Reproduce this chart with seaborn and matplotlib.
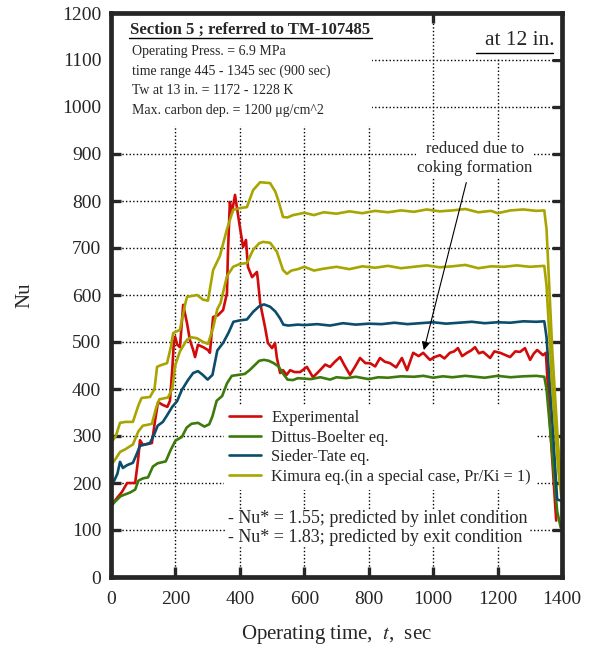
import pandas as pd
import matplotlib.pyplot as plt
import seaborn as sns

sns.set_theme(style="ticks")
plt.rcParams['font.family'] = ['Liberation Serif', 'DejaVu Serif']
plt.rcParams['mathtext.fontset'] = 'stix'
plt.rcParams['xtick.direction'] = 'in'
plt.rcParams['ytick.direction'] = 'in'

# Experimental
t_exp = [0, 15, 34, 50, 75, 84, 90, 99, 115, 127, 137, 146, 161, 175, 183, 190, 195, 199, 205, 214,
         224, 236, 245, 255, 261, 270, 286, 301, 307, 317, 332, 348, 360, 363, 369, 375, 385, 392, 400,
         410, 419, 425, 438, 453, 456, 463, 478, 487, 500, 509, 515, 525, 534, 545, 556, 570, 587, 608,
         627, 649, 665, 680, 695, 711, 725, 742, 758, 773, 790, 804, 820, 835, 850, 866, 885, 903, 919,
         938, 955, 969, 990, 1005, 1021, 1035, 1052, 1065, 1077, 1090, 1105, 1118, 1130, 1142, 1155,
         1177, 1190, 1208, 1225, 1239, 1255, 1270, 1285, 1301, 1312, 1323, 1341, 1350, 1365, 1382]
nu_exp = [150, 165, 181, 200, 200, 249, 291, 281, 283, 285, 334, 372, 366, 362, 375, 440, 498, 511, 495, 489,
          579, 540, 504, 483, 468, 494, 489, 483, 477, 553, 557, 568, 604, 689, 798, 774, 813, 781, 745,
          702, 717, 660, 638, 649, 632, 583, 532, 498, 487, 498, 466, 434, 440, 430, 440, 436, 436, 447,
          425, 440, 452, 447, 458, 468, 450, 430, 448, 466, 455, 455, 448, 466, 458, 455, 446, 466, 440,
          477, 470, 477, 462, 468, 472, 465, 477, 480, 487, 470, 477, 482, 489, 476, 479,
          466, 480, 477, 472, 468, 480, 479, 487, 462, 475, 483, 472, 477, 300, 120]

# Dittus-Boelter
t_db = [0, 15, 30, 45, 60, 75, 85, 100, 115, 130, 145, 170, 185, 200, 220, 235, 250, 270, 290, 305,
        315, 328, 345, 360, 375, 395, 415, 430, 445, 460, 475, 490, 505, 520, 535, 548, 565, 580, 600,
        620, 650, 680, 700, 730, 760, 800, 830, 860, 900, 940, 970, 1000, 1030, 1060, 1100, 1130, 1160,
        1200, 1240, 1280, 1320, 1345, 1352, 1370, 1385, 1396]
nu_db = [151, 162, 172, 176, 180, 186, 205, 210, 212, 235, 242, 246, 270, 290, 298, 318, 326, 328, 320, 325,
         342, 375, 385, 412, 428, 430, 432, 440, 450, 460, 462, 460, 455, 448, 432, 420, 419, 423, 422,
         421, 425, 420, 425, 423, 426, 421, 425, 424, 427, 426, 428, 424, 427, 425, 428, 426, 424,
         428, 425, 427, 428, 426, 400, 260, 140, 105]

# Sieder-Tate
t_st = [0, 10, 20, 28, 37, 50, 68, 80, 90, 105, 121, 135, 145, 161, 175, 190, 205, 220, 239, 255,
        270, 285, 300, 315, 330, 348, 365, 380, 400, 422, 441, 460, 475, 494, 510, 525, 535, 550, 580,
        600, 640, 680, 720, 760, 800, 840, 880, 920, 960, 1000, 1040, 1080, 1120, 1160, 1200, 1240,
        1280, 1320, 1345, 1352, 1370, 1385, 1398]
nu_st = [198, 205, 220, 245, 232, 238, 243, 262, 279, 282, 285, 305, 322, 330, 345, 362, 374, 398, 419, 434,
         438, 430, 420, 430, 482, 498, 520, 543, 546, 548, 564, 576, 580, 575, 565, 550, 537, 535, 537,
         536, 538, 535, 540, 537, 539, 538, 541, 538, 540, 542, 539, 541, 543, 540, 542, 541,
         544, 543, 544, 510, 330, 165, 162]

# Kimura (Nu* = 1.55)
t_k1 = [0, 15, 28, 45, 68, 85, 99, 115, 127, 140, 150, 177, 190, 200, 214, 236, 250, 267, 286, 301,
        317, 330, 340, 360, 379, 400, 422, 441, 460, 472, 494, 515, 534, 546, 560, 580, 600, 630, 660,
        700, 740, 780, 820, 860, 900, 940, 980, 1020, 1060, 1100, 1140, 1180, 1220, 1260, 1300, 1345,
        1352, 1370, 1388, 1398]
nu_k1 = [238, 252, 266, 272, 282, 310, 322, 324, 326, 360, 378, 382, 400, 452, 480, 505, 510, 508, 500, 496,
         530, 570, 583, 640, 660, 666, 668, 696, 710, 713, 711, 692, 653, 645, 652, 655, 660, 652, 656,
         660, 655, 661, 658, 662, 657, 660, 663, 659, 661, 664, 657, 661, 660, 663, 660, 662,
         620, 400, 230, 170]

# Kimura (Nu* = 1.83)
t_k2 = [0, 15, 28, 45, 68, 85, 95, 121, 135, 143, 152, 174, 186, 193, 214, 230, 236, 267, 286, 301,
        317, 338, 360, 379, 400, 422, 441, 463, 494, 510, 519, 534, 548, 565, 580, 600, 630, 660, 700,
        740, 780, 820, 860, 900, 940, 980, 1020, 1060, 1100, 1140, 1180, 1200, 1240, 1280, 1320, 1345,
        1352, 1370, 1388, 1398]
nu_k2 = [285, 300, 328, 330, 330, 365, 381, 383, 400, 447, 450, 455, 490, 519, 526, 580, 596, 600, 590, 588,
         653, 683, 740, 781, 785, 787, 823, 840, 838, 820, 802, 766, 765, 770, 772, 775, 770, 776, 773,
         778, 774, 779, 776, 780, 777, 782, 778, 780, 783, 776, 779, 774, 780, 782, 779, 780,
         740, 480, 280, 205]

x_ticks = list(range(0, 1401, 200))
y_ticks = list(range(0, 1201, 100))

series = [
    (t_exp, nu_exp, "Experimental", "#d10a0a"),
    (t_db, nu_db, "Dittus-Boelter eq.", "#3d7a0c"),
    (t_st, nu_st, "Sieder-Tate eq.", "#0b4d6b"),
    (t_k1, nu_k1, "Kimura eq.(in a special case, Pr/Ki = 1)", "#a8a400"),
    (t_k2, nu_k2, "_kimura2", "#a8a400"),
]

fig = plt.figure(figsize=(5.91, 6.46), dpi=100)
ax = fig.add_axes([111 / 591, 1 - 577 / 646, 451 / 591, 564 / 646])

# dotted grid drawn as plain lines so the white text boxes can sit above it
grid_kw = dict(color='black', linestyle=(0, (1, 1.6)), linewidth=1.0, zorder=0.5)
for xv in x_ticks[1:-1]:
    ax.axvline(xv, **grid_kw)
for yv in y_ticks[1:-1]:
    ax.axhline(yv, **grid_kw)

for t, nu, lab, col in series:
    df = pd.DataFrame({'t': t, 'Nu': nu})
    sns.lineplot(data=df, x='t', y='Nu', color=col, linewidth=1.9, label=lab, ax=ax, zorder=3)

ax.set_xlim(0, 1400)
ax.set_ylim(0, 1200)
ax.set_xticks(x_ticks)
ax.set_yticks(y_ticks)
ax.tick_params(direction='in', length=7, width=2.4, top=True, right=True, labelsize=14)
ax.tick_params(axis='x', pad=10)
ax.tick_params(axis='y', pad=7)
for s in ax.spines.values():
    s.set_linewidth(3.4)
    s.set_zorder(6)
ax.set_xlabel("Operating time,  $\\it{t}$,  sec", fontsize=15, labelpad=11)
ax.set_ylabel("Nu", fontsize=15, labelpad=20)

# white boxes hiding the grid
ax.add_patch(plt.Rectangle((0, 0.800), 0.578, 0.200, transform=ax.transAxes,
                           facecolor='white', edgecolor='none', zorder=1))
ax.add_patch(plt.Rectangle((0.78, 0.918), 0.22, 0.082, transform=ax.transAxes,
                           facecolor='white', edgecolor='none', zorder=1))

ax.text(0.042, 0.971, "Section 5 ; referred to TM-107485", transform=ax.transAxes,
        fontsize=12, fontweight='bold', va='center', ha='left', zorder=4)
ax.plot([0.04, 0.578], [0.955, 0.955], transform=ax.transAxes, color='black', lw=1.0,
        clip_on=False, zorder=4)
info = ("Operating Press. = 6.9 MPa\n"
        "time range 445 - 1345 sec (900 sec)\n"
        "Tw at 13 in. = 1172 - 1228 K\n"
        "Max. carbon dep. = 1200 \u03bcg/cm^2")
ax.text(0.047, 0.944, info, transform=ax.transAxes, fontsize=10, va='top', ha='left',
        linespacing=1.66, zorder=4)

ax.text(0.984, 0.952, "at 12 in.", transform=ax.transAxes, fontsize=15.5, va='center',
        ha='right', zorder=4)
ax.plot([0.809, 0.981], [0.929, 0.929], transform=ax.transAxes, color='black', lw=1.0, zorder=4)

ax.annotate("", xy=(969, 477), xytext=(1105, 845),
            arrowprops=dict(arrowstyle='-|>', color='black', lw=0.8, mutation_scale=12), zorder=4)
ax.text(1130, 890, "reduced due to\ncoking formation", fontsize=12, ha='center', va='center',
        linespacing=1.3, zorder=4,
        bbox=dict(facecolor='white', edgecolor='none', pad=1))

handles, labels = ax.get_legend_handles_labels()
leg = ax.legend(handles[:4], labels[:4], loc='upper left', bbox_to_anchor=(0.25, 0.305),
                fontsize=11.8, frameon=True, framealpha=1, facecolor='white', edgecolor='none',
                fancybox=False, handlelength=2.0, handletextpad=0.6, labelspacing=0.22,
                borderpad=0.3, borderaxespad=0)
leg.set_zorder(5)

ax.text(0.26, 0.087, "- Nu* = 1.55; predicted by inlet condition\n- Nu* = 1.83; predicted by exit condition",
        transform=ax.transAxes, fontsize=13, ha='left', va='center', linespacing=1.12, zorder=4,
        bbox=dict(facecolor='white', edgecolor='none', pad=1))

plt.savefig('out.png', dpi=100)
